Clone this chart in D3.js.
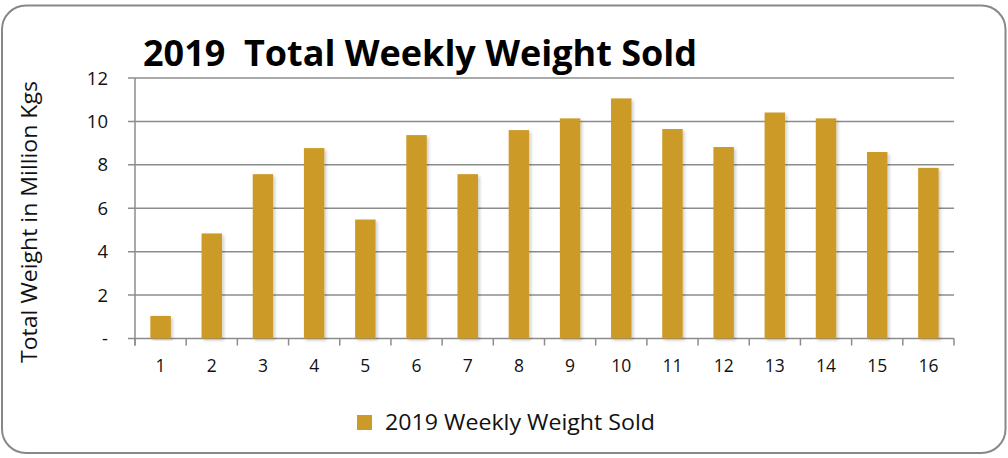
<!DOCTYPE html>
<html>
<head>
<meta charset="utf-8">
<script src="https://cdn.jsdelivr.net/npm/d3@7"></script>
<style>
  body { margin: 0; background: #fff; }
  svg { display: block; font-family: "Open Sans", "Noto Sans", sans-serif; }
</style>
</head>
<body>
<svg id="chart" width="1008" height="458"></svg>
<script>
// chart data
var weeks = ["1","2","3","4","5","6","7","8","9","10","11","12","13","14","15","16"];
var weightSold = [1.04, 4.84, 7.57, 8.77, 5.48, 9.37, 7.57, 9.6, 10.14, 11.06, 9.65, 8.82, 10.41, 10.14, 8.59, 7.86];
var yTicks = [0, 2, 4, 6, 8, 10, 12];
var yTickLabels = ["-", "2", "4", "6", "8", "10", "12"];
var chartTitle = "2019  Total Weekly Weight Sold";
var yTitle = "Total Weight in Million Kgs";
var seriesName = "2019 Weekly Weight Sold";

var barColor = "#CC9A27";
var gridColor = "#8c8c8c";

var svg = d3.select("#chart");

// outer rounded frame
svg.append("rect")
   .attr("x", 2).attr("y", 5.5)
   .attr("width", 1003.5).attr("height", 447.5)
   .attr("rx", 24).attr("ry", 24)
   .attr("fill", "#fff")
   .attr("stroke", "#888").attr("stroke-width", 2);

// soft shadow for the bars
var defs = svg.append("defs");
var f = defs.append("filter").attr("id", "shadow")
    .attr("x", "-30%").attr("y", "-10%").attr("width", "160%").attr("height", "120%");
f.append("feDropShadow").attr("dx", 2).attr("dy", 2).attr("stdDeviation", 1.5)
    .attr("flood-color", "#000").attr("flood-opacity", 0.18);

var plot = {left: 135, top: 78, right: 954, bottom: 338.5};

var x = d3.scaleBand().domain(weeks).range([plot.left, plot.right]).paddingInner(0.6).paddingOuter(0.3);
var xb = d3.scaleBand().domain(weeks).range([plot.left, plot.right]);
var y = d3.scaleLinear().domain([0, 12]).range([plot.bottom, plot.top]);

// gridlines
svg.append("g").selectAll("line").data(yTicks).enter()
   .append("line")
   .attr("x1", plot.left - 7).attr("x2", plot.right)
   .attr("y1", function(d) { return y(d); })
   .attr("y2", function(d) { return y(d); })
   .attr("stroke", gridColor).attr("stroke-width", 1.5);

// y axis line
svg.append("line")
   .attr("x1", plot.left).attr("x2", plot.left)
   .attr("y1", plot.top).attr("y2", plot.bottom + 7)
   .attr("stroke", gridColor).attr("stroke-width", 1.5);

// x tick marks at band edges
var edges = weeks.map(function(d) { return xb(d); }).concat([plot.right]);
svg.append("g").selectAll("line").data(edges).enter()
   .append("line")
   .attr("x1", function(d) { return d; }).attr("x2", function(d) { return d; })
   .attr("y1", plot.bottom).attr("y2", plot.bottom + 7)
   .attr("stroke", gridColor).attr("stroke-width", 1.5);

// bars
svg.append("g").selectAll("rect").data(weightSold).enter()
   .append("rect")
   .attr("x", function(d, i) { return x(weeks[i]); })
   .attr("y", function(d) { return y(d); })
   .attr("width", x.bandwidth())
   .attr("height", function(d) { return y(0) - y(d); })
   .attr("fill", barColor)
   .attr("filter", "url(#shadow)");

// y tick labels
svg.append("g").selectAll("text").data(yTicks).enter()
   .append("text")
   .attr("x", 108)
   .attr("y", function(d) { return y(d); })
   .attr("dy", "0.36em")
   .attr("text-anchor", "end")
   .style("font-size", "18.5px")
   .style("fill", "#111")
   .text(function(d, i) { return yTickLabels[i]; });

// x tick labels
svg.append("g").selectAll("text").data(weeks).enter()
   .append("text")
   .attr("x", function(d) { return xb(d) + xb.bandwidth() / 2; })
   .attr("y", 372)
   .attr("text-anchor", "middle")
   .style("font-size", "17.5px")
   .style("fill", "#111")
   .text(function(d) { return d; });

// title
svg.append("text")
   .attr("x", 143).attr("y", 66)
   .attr("textLength", 554)
   .attr("lengthAdjust", "spacingAndGlyphs")
   .style("white-space", "pre")
   .style("font-size", "35px")
   .style("font-weight", "bold")
   .style("fill", "#000")
   .text(chartTitle);

// y axis title
svg.append("text")
   .attr("transform", "translate(37,222) rotate(-90)")
   .attr("text-anchor", "middle")
   .attr("textLength", 282)
   .attr("lengthAdjust", "spacingAndGlyphs")
   .style("font-size", "22px")
   .style("fill", "#111")
   .text(yTitle);

// legend
svg.append("rect")
   .attr("x", 357).attr("y", 415)
   .attr("width", 15).attr("height", 15)
   .attr("fill", barColor);
svg.append("text")
   .attr("x", 385).attr("y", 430)
   .attr("textLength", 270)
   .attr("lengthAdjust", "spacingAndGlyphs")
   .style("font-size", "21px")
   .style("fill", "#111")
   .text(seriesName);
</script>
</body>
</html>
